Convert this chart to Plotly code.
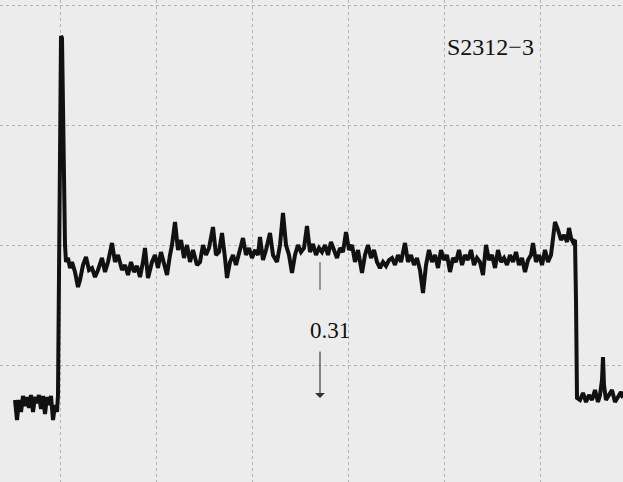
import plotly.graph_objects as go

# Chart-recorder trace: time position (chart units) and pen deflection (chart units)
pre_t = [15, 17, 19, 21, 23, 25, 27, 29, 31, 33, 35, 37, 39, 41, 43, 45, 47, 49, 51, 53, 55, 57, 58]
pre_v = [82, 62, 82, 70, 86, 76, 85, 74, 87, 70, 85, 79, 87, 73, 86, 68, 85, 77, 86, 62, 77, 70, 87]

spike_t = [59, 60, 61, 62, 63, 64, 65]
spike_v = [232, 422, 446, 444, 362, 282, 237]

plateau_t = [66, 68, 70, 72, 75, 78, 80, 83, 86, 89, 92, 95, 98, 102, 105, 108, 112, 115, 118, 122,
             125, 128, 131, 134, 137, 140, 143, 145, 148, 152, 155, 158, 161, 164, 167, 170, 172, 175,
             178, 181, 184, 187, 190, 193, 197, 200, 203, 206, 209, 213, 216, 219, 222, 225, 227, 230,
             233, 236, 240, 243, 246, 249, 252, 255, 258, 260, 263, 266, 270, 273, 277, 280, 283, 286,
             289, 292, 295, 298, 301, 304, 307, 310, 313, 316, 319, 322, 325, 328, 331, 334, 337, 340,
             343, 346, 349, 352, 355, 358, 362, 365, 368, 371, 374, 377, 380, 383, 386, 389, 392, 395,
             398, 401, 405, 408, 411, 414, 417, 420, 423, 426, 429, 432, 435, 438, 441, 444, 447, 450,
             453, 456, 459, 462, 465, 468, 471, 474, 477, 480, 483, 486, 489, 492, 495, 498, 501, 504,
             507, 510, 513, 516, 519, 522, 525, 528, 531, 533, 536, 539, 542, 545, 548, 551]
plateau_v = [220, 224, 214, 220, 210, 195, 202, 217, 225, 212, 214, 205, 212, 224, 210, 220, 239, 220, 227, 212,
             217, 207, 220, 210, 216, 205, 220, 234, 204, 220, 227, 214, 230, 220, 207, 227, 237, 260,
             232, 242, 224, 237, 220, 232, 217, 220, 237, 227, 234, 255, 227, 230, 249, 224, 204, 220,
             227, 217, 232, 244, 227, 234, 224, 232, 227, 245, 222, 232, 249, 227, 220, 237, 269, 237,
             227, 209, 227, 237, 230, 234, 256, 230, 238, 227, 234, 230, 237, 227, 240, 232, 224, 234,
             230, 250, 232, 237, 220, 232, 209, 227, 237, 224, 232, 220, 214, 220, 216, 222, 224, 217,
             227, 220, 239, 220, 227, 217, 224, 212, 189, 217, 232, 220, 227, 214, 232, 222, 227, 210,
             224, 220, 232, 217, 227, 222, 232, 217, 224, 220, 207, 237, 222, 227, 214, 232, 220, 224,
             217, 227, 220, 230, 217, 224, 210, 222, 227, 239, 220, 227, 217, 232, 220, 227]

bump_t = [553, 555, 558, 561, 564, 567, 569, 571, 573, 575, 576]
bump_v = [242, 260, 252, 242, 247, 240, 254, 244, 240, 242, 182]

post_t = [577, 580, 583, 586, 589, 592, 595, 598, 600, 602, 603, 604, 606, 609, 612, 615, 618, 621, 623]
post_v = [84, 82, 89, 80, 87, 82, 92, 80, 87, 102, 125, 97, 82, 87, 92, 80, 86, 90, 84]

trace_t = pre_t + spike_t + plateau_t + bump_t + post_t
trace_v = pre_v + spike_v + plateau_v + bump_v + post_v

sample_label = "S2312−3"
marker_label = "0.31"
marker_t = 320

fig = go.Figure()
fig.add_trace(go.Scatter(
    x=trace_t, y=trace_v, mode="lines",
    line=dict(color="#111111", width=4),
    hoverinfo="skip", showlegend=False,
))

fig.add_annotation(x=490, y=435, text=sample_label, showarrow=False,
                   font=dict(family="Liberation Serif, DejaVu Serif, serif", size=24, color="#111111"))
fig.add_annotation(x=330, y=152, text=marker_label, showarrow=False,
                   font=dict(family="Liberation Serif, DejaVu Serif, serif", size=23, color="#111111"))
fig.add_annotation(x=marker_t, y=84, ax=marker_t, ay=132, xref="x", yref="y", axref="x", ayref="y",
                   text="", showarrow=True, arrowhead=1, arrowsize=1.5, arrowwidth=1.1,
                   arrowcolor="#333333")
fig.add_shape(type="line", x0=marker_t, x1=marker_t, y0=192, y1=220,
              line=dict(color="#444444", width=1))

fig.update_layout(
    width=623, height=482,
    margin=dict(l=0, r=0, t=0, b=0),
    paper_bgcolor="#ececec",
    plot_bgcolor="#ececec",
    xaxis=dict(range=[0, 623], showticklabels=False, ticks="", zeroline=False,
               showgrid=True, tick0=60, dtick=96, gridcolor="#b4b4b4", griddash="dot", gridwidth=1,
               fixedrange=True),
    yaxis=dict(range=[0, 482], showticklabels=False, ticks="", zeroline=False,
               showgrid=True, tick0=117, dtick=120, gridcolor="#b4b4b4", griddash="dot", gridwidth=1,
               fixedrange=True),
)

fig.write_html("out.html", config={"displayModeBar": False},
               post_script="document.body.style.margin='0';document.body.style.overflow='hidden';")
